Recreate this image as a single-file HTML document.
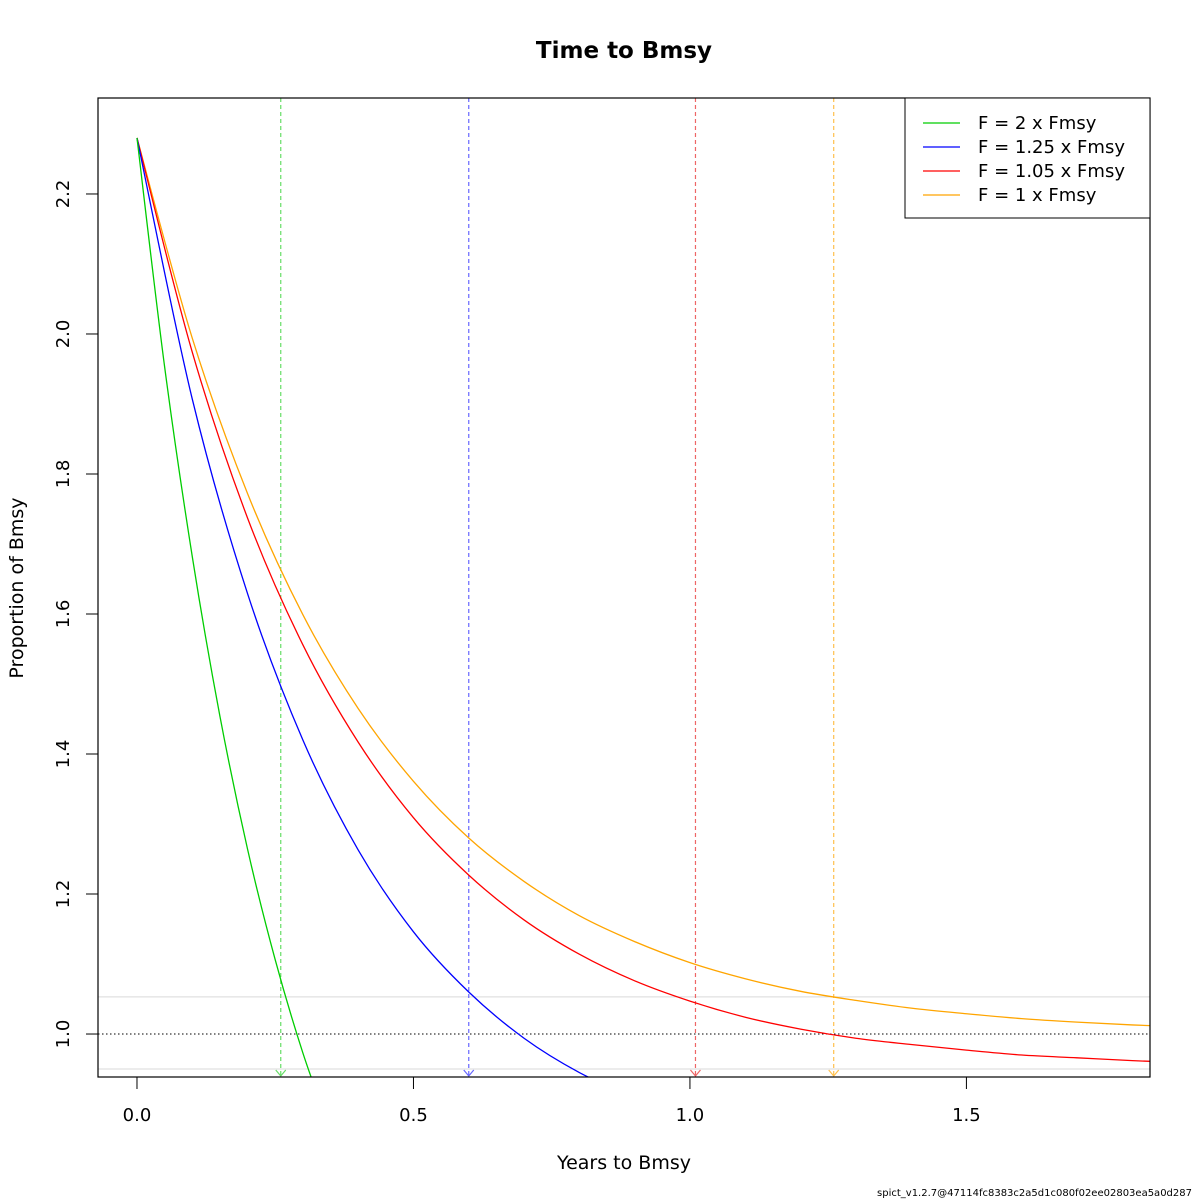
<!DOCTYPE html>
<html><head><meta charset="utf-8"><style>
body{margin:0;background:#fff}
svg{display:block;font-family:"DejaVu Sans","Liberation Sans",sans-serif}
</style></head><body>
<svg id="chart" width="1200" height="1200" viewBox="0 0 1200 1200">
<rect width="1200" height="1200" fill="#fff"/>
<defs><clipPath id="plotclip"><rect x="98" y="98" width="1052" height="979"/></clipPath></defs>
<text x="624" y="58" text-anchor="middle" font-size="23" font-weight="bold">Time to Bmsy</text>
<text x="624" y="1169" text-anchor="middle" font-size="19">Years to Bmsy</text>
<text transform="translate(23,588) rotate(-90)" text-anchor="middle" font-size="19">Proportion of Bmsy</text>
<text x="1192" y="1196" text-anchor="end" font-size="10">spict_v1.2.7@47114fc8383c2a5d1c080f02ee02803ea5a0d287</text>
<g id="refs" clip-path="url(#plotclip)"></g>
<g id="series" clip-path="url(#plotclip)"></g>
<g id="axes"></g>
<rect x="98" y="98" width="1052" height="979" fill="none" stroke="#000" stroke-width="1.2"/>
<g>
<rect x="905" y="98" width="245" height="120" fill="#fff" stroke="#000" stroke-width="1"/>
<g id="legend"></g>
</g>
</svg>
<script>
const greenT=[0,0.05,0.1,0.15,0.2,0.25,0.3,0.35];
const greenB=[2.28,1.953,1.682,1.454,1.264,1.106,0.973,0.862];
const blueT=[0,0.1,0.2,0.3,0.4,0.5,0.6,0.7,0.8,0.9];
const blueB=[2.28,1.907,1.629,1.420,1.263,1.146,1.060,0.994,0.945,0.909];
const redT=[0,0.1,0.2,0.3,0.4,0.5,0.6,0.7,0.8,0.9,1.0,1.1,1.2,1.3,1.4,1.5,1.6,1.7,1.8,1.9];
const redB=[2.28,1.974,1.737,1.556,1.417,1.309,1.227,1.163,1.114,1.076,1.047,1.024,1.007,0.994,0.985,0.977,0.970,0.966,0.962,0.959];
const orangeT=[0,0.1,0.2,0.3,0.4,0.5,0.6,0.7,0.8,0.9,1.0,1.1,1.2,1.3,1.4,1.5,1.6,1.7,1.8,1.9];
const orangeB=[2.28,1.994,1.772,1.599,1.465,1.361,1.280,1.218,1.169,1.132,1.102,1.079,1.061,1.048,1.037,1.029,1.022,1.017,1.013,1.010];
const seriesNames=["F = 2 x Fmsy","F = 1.25 x Fmsy","F = 1.05 x Fmsy","F = 1 x Fmsy"];
const timeToBmsy=[0.26,0.60,1.01,1.26];
const xTicks=[0,0.5,1,1.5];
const xTickLabels=["0.0","0.5","1.0","1.5"];
const yTicks=[1.0,1.2,1.4,1.6,1.8,2.0,2.2];
const yTickLabels=["1.0","1.2","1.4","1.6","1.8","2.0","2.2"];
const bmsyLine=1.0;
const bandLines=[1.053,0.95];

const NS="http://www.w3.org/2000/svg";
const X0=98,X1=1150,Y0=98,Y1=1077;
const xmin=-0.0705,xmax=1.832,ymin=0.9386,ymax=2.3371;
const sx=v=>X0+(v-xmin)/(xmax-xmin)*(X1-X0);
const sy=v=>Y1-(v-ymin)/(ymax-ymin)*(Y1-Y0);
function mk(tag,attrs,parent){const e=document.createElementNS(NS,tag);for(const k in attrs)e.setAttribute(k,attrs[k]);parent.appendChild(e);return e;}
const refs=document.getElementById('refs'),ser=document.getElementById('series'),axes=document.getElementById('axes'),leg=document.getElementById('legend');
const colors=["#00cd00","#0000ff","#ff0000","#ffa500"];
const lightColors=["#66dd66","#6666ff","#ee6666","#ffc04d"];

bandLines.forEach((v,i)=>{
 const l=mk('line',{x1:X0,x2:X1,y1:sy(v),y2:sy(v),stroke:'#d9d9d9','stroke-width':1},refs);
 
 
});
const bl=mk('line',{x1:X0,x2:X1,y1:sy(bmsyLine),y2:sy(bmsyLine),stroke:'#000','stroke-width':1,'stroke-dasharray':'1.5,2.5'},refs);



timeToBmsy.forEach((t,i)=>{
 const x=sx(t);
 const l=mk('line',{x1:x,x2:x,y1:Y0,y2:Y1,stroke:lightColors[i],'stroke-width':1.2,'stroke-dasharray':'4,3'},refs);
 
 
 const a=mk('path',{d:`M${x-5},${Y1-7} L${x},${Y1-1} L${x+5},${Y1-7}`,fill:'none',stroke:lightColors[i],'stroke-width':1.2},refs);
 
 
});

function spline(T,B){
 const p=T.map((t,i)=>[sx(t),sy(B[i])]);
 let d=`M${p[0][0]},${p[0][1]}`;
 for(let i=0;i<p.length-1;i++){
  const p0=p[Math.max(0,i-1)],p1=p[i],p2=p[i+1],p3=p[Math.min(p.length-1,i+2)];
  const c1=[p1[0]+(p2[0]-p0[0])/6,p1[1]+(p2[1]-p0[1])/6];
  const c2=[p2[0]-(p3[0]-p1[0])/6,p2[1]-(p3[1]-p1[1])/6];
  d+=` C${c1[0]},${c1[1]} ${c2[0]},${c2[1]} ${p2[0]},${p2[1]}`;
 }
 return d;
}
const allT=[greenT,blueT,redT,orangeT],allB=[greenB,blueB,redB,orangeB];
const ids=['green','blue','red','orange'];
for(let i=3;i>=0;i--){
 const p=mk('path',{d:spline(allT[i],allB[i]),fill:'none',stroke:colors[i],'stroke-width':1.3},ser);
 
 
}

xTicks.forEach((v,i)=>{
 const x=sx(v);
 const t=mk('line',{x1:x,x2:x,y1:Y1,y2:Y1+12,stroke:'#000','stroke-width':1},axes);
 
 
 const lb=mk('text',{x:x,y:Y1+44,'text-anchor':'middle','font-size':18},axes);
 lb.textContent=xTickLabels[i];
 
 
});
yTicks.forEach((v,i)=>{
 const y=sy(v);
 const t=mk('line',{x1:X0-12,x2:X0,y1:y,y2:y,stroke:'#000','stroke-width':1},axes);
 
 
 const lb=mk('text',{transform:`translate(${X0-29},${y}) rotate(-90)`,'text-anchor':'middle','font-size':18},axes);
 lb.textContent=yTickLabels[i];
 
 
});

seriesNames.forEach((n,i)=>{
 const y=123+i*24;
 const g=mk('g',{},leg);
 
 
 mk('line',{x1:923,x2:960,y1:y,y2:y,stroke:colors[i],'stroke-width':1.3},g);
 const t=mk('text',{x:978,y:y+6,'font-size':18},g);
 t.textContent=n;
});
</script>
</body></html>
